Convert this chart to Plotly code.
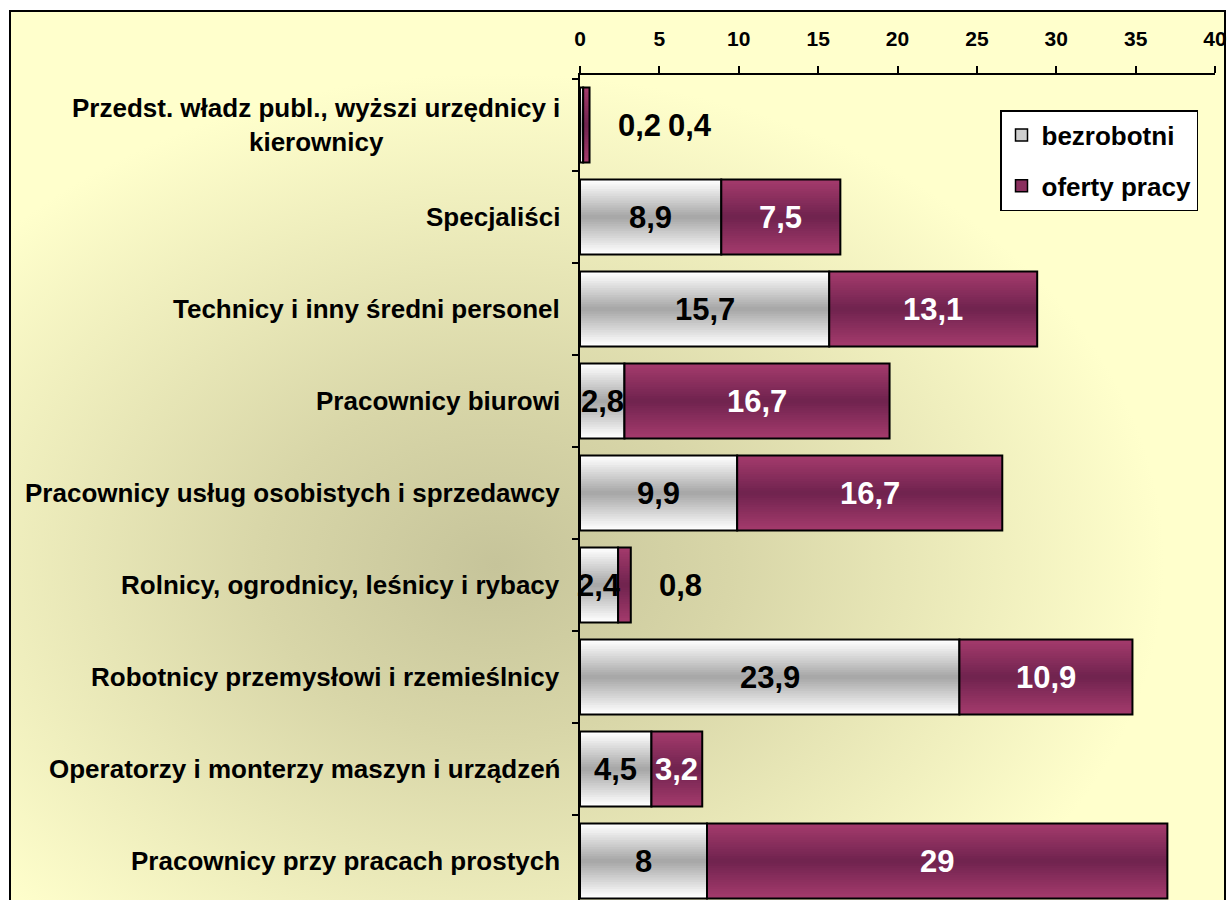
import base64
import plotly.graph_objects as go

# ---------------- data ----------------
categories = [
    "Przedst. władz publ., wyższi urzędnicy i<br>kierownicy",
    "Specjaliści",
    "Technicy i inny średni personel",
    "Pracownicy biurowi",
    "Pracownicy usług osobistych i sprzedawcy",
    "Rolnicy, ogrodnicy, leśnicy i rybacy",
    "Robotnicy przemysłowi i rzemieślnicy",
    "Operatorzy i monterzy maszyn i urządzeń",
    "Pracownicy przy pracach prostych",
]
bezrobotni = [0.2, 8.9, 15.7, 2.8, 9.9, 2.4, 23.9, 4.5, 8.0]
oferty_pracy = [0.4, 7.5, 13.1, 16.7, 16.7, 0.8, 10.9, 3.2, 29.0]
series_names = ["bezrobotni", "oferty pracy"]
x_ticks = [0, 5, 10, 15, 20, 25, 30, 35, 40]

# ---------------- layout geometry ----------------
W, H = 1228, 900
ML, MR, MT, MB = 580, 13, 75, 0
PW, PH = W - ML - MR, H - MT - MB
ROW = 92.0
BAR_W = 0.815
FONT = "Liberation Sans, Arial, sans-serif"
VAL_SIZE = 31
CAT_SIZE = 26


def px_to_paper_x(px):
    return (px - ML) / PW


def px_to_paper_y(py):
    return 1 - (py - MT) / PH


def lerp_color(c1, c2, t):
    a = [int(c1[i:i + 2], 16) for i in (1, 3, 5)]
    b = [int(c2[i:i + 2], 16) for i in (1, 3, 5)]
    return "#%02x%02x%02x" % tuple(round(a[k] + (b[k] - a[k]) * t) for k in range(3))


fig = go.Figure()

# gradient bars built from overlaid layers
N_LAYERS = 16
gray_edge, gray_mid = "#ffffff", "#a8a8a8"
purp_edge, purp_mid = "#a33a6c", "#71244f"

bases_gray = [0.0] * len(bezrobotni)
bases_purp = list(bezrobotni)

for vals, bases, edge, mid in [
    (bezrobotni, bases_gray, gray_edge, gray_mid),
    (oferty_pracy, bases_purp, purp_edge, purp_mid),
]:
    for k in range(N_LAYERS):
        t = k / (N_LAYERS - 1)
        fig.add_trace(go.Bar(
            y=categories, x=vals, base=bases, orientation="h",
            width=BAR_W * (1 - k / N_LAYERS),
            marker=dict(color=lerp_color(edge, mid, t), line=dict(width=0)),
            showlegend=False, hoverinfo="skip",
        ))
    # outline
    fig.add_trace(go.Bar(
        y=categories, x=vals, base=bases, orientation="h", width=BAR_W,
        marker=dict(color="rgba(0,0,0,0)", line=dict(color="black", width=2)),
        showlegend=False, hoverinfo="skip",
    ))

# legend-only entries
for name, col, grp in [(series_names[0], "#cfcfcf", "a"), (series_names[1], "#8a2f5e", "b")]:
    fig.add_trace(go.Bar(
        y=[None], x=[None], orientation="h", name=name, legendgroup=grp,
        marker=dict(color=col, line=dict(color="black", width=1.5)),
    ))


def fmt(v):
    return ("%g" % v).replace(".", ",")


annotations = []
# value labels
for i, cat in enumerate(categories):
    g, p = bezrobotni[i], oferty_pracy[i]
    outside = 0
    if g >= 1:
        annotations.append(dict(x=g / 2, y=cat, xref="x", yref="y", text=fmt(g),
                                showarrow=False, font=dict(family=FONT, size=VAL_SIZE, color="black", weight="bold")))
    else:
        outside += 1
        annotations.append(dict(x=g + p, y=cat, xref="x", yref="y", text=fmt(g), xshift=50 * outside,
                                showarrow=False, font=dict(family=FONT, size=VAL_SIZE, color="black", weight="bold")))
    if p >= 1:
        annotations.append(dict(x=g + p / 2, y=cat, xref="x", yref="y", text=fmt(p),
                                showarrow=False, font=dict(family=FONT, size=VAL_SIZE, color="white", weight="bold")))
    else:
        outside += 1
        annotations.append(dict(x=g + p, y=cat, xref="x", yref="y", text=fmt(p), xshift=50 * outside,
                                showarrow=False, font=dict(family=FONT, size=VAL_SIZE, color="black", weight="bold")))

# category labels (centered multi-line)
for cat in categories:
    annotations.append(dict(x=0, y=cat, xref="paper", yref="y", text=cat, xanchor="right",
                            xshift=-18, align="center", showarrow=False,
                            font=dict(family=FONT, size=CAT_SIZE, color="black", weight="bold")))

# background with radial gradient
svg = (
    '<svg xmlns="http://www.w3.org/2000/svg" width="1215" height="889" preserveAspectRatio="none">'
    '<defs><radialGradient id="g" cx="0.40" cy="0.62" r="0.55">'
    '<stop offset="0" stop-color="#c6c49a"/>'
    '<stop offset="0.35" stop-color="#d8d6a8"/>'
    '<stop offset="1" stop-color="#ffffcc"/>'
    '</radialGradient></defs>'
    '<rect x="0" y="0" width="1215" height="889" fill="url(#g)"/></svg>'
)
src = "data:image/svg+xml;base64," + base64.b64encode(svg.encode()).decode()
bx0, bx1, by0, by1 = 10, 1225, 11, 905

fig.update_layout(
    width=W, height=H,
    margin=dict(l=ML, r=MR, t=MT, b=MB),
    paper_bgcolor="white", plot_bgcolor="rgba(0,0,0,0)",
    barmode="overlay", bargap=0.18,
    font=dict(family=FONT, color="black"),
    images=[dict(source=src, xref="paper", yref="paper",
                 x=px_to_paper_x(bx0), y=px_to_paper_y(by0),
                 sizex=px_to_paper_x(bx1) - px_to_paper_x(bx0),
                 sizey=px_to_paper_y(by0) - px_to_paper_y(by1),
                 xanchor="left", yanchor="top", sizing="stretch", layer="below")],
    shapes=[dict(type="rect", xref="paper", yref="paper",
                 x0=px_to_paper_x(bx0), x1=px_to_paper_x(bx1),
                 y0=px_to_paper_y(by1), y1=px_to_paper_y(by0),
                 line=dict(color="black", width=2), fillcolor="rgba(0,0,0,0)", layer="below")],
    xaxis=dict(side="top", range=[0, 40], tickvals=x_ticks, ticktext=[str(v) for v in x_ticks],
               ticks="outside", ticklen=7, tickwidth=1.5, tickcolor="black", ticklabelstandoff=12,
               showline=True, linecolor="black", linewidth=1.5, showgrid=False, zeroline=False,
               tickfont=dict(family=FONT, size=21, color="black", weight="bold")),
    yaxis=dict(type="category", categoryorder="array", categoryarray=categories,
               range=[8.5 - 7 / ROW, -0.5 - 4 / ROW],
               ticks="outside", tickson="boundaries", ticklen=6, tickwidth=1.5, tickcolor="black",
               showline=True, linecolor="black", linewidth=1.5, showgrid=False,
               showticklabels=False),
    legend=dict(x=px_to_paper_x(1000), y=px_to_paper_y(110), xanchor="left", yanchor="top",
                bgcolor="white", bordercolor="black", borderwidth=1.5,
                traceorder="grouped", tracegroupgap=14, itemwidth=30,
                font=dict(family=FONT, size=26, color="black", weight="bold")),
    annotations=annotations,
)

fig.write_html(
    "out.html",
    config={"displayModeBar": False},
    post_script="document.body.style.margin='0';document.body.style.overflow='hidden';",
)
